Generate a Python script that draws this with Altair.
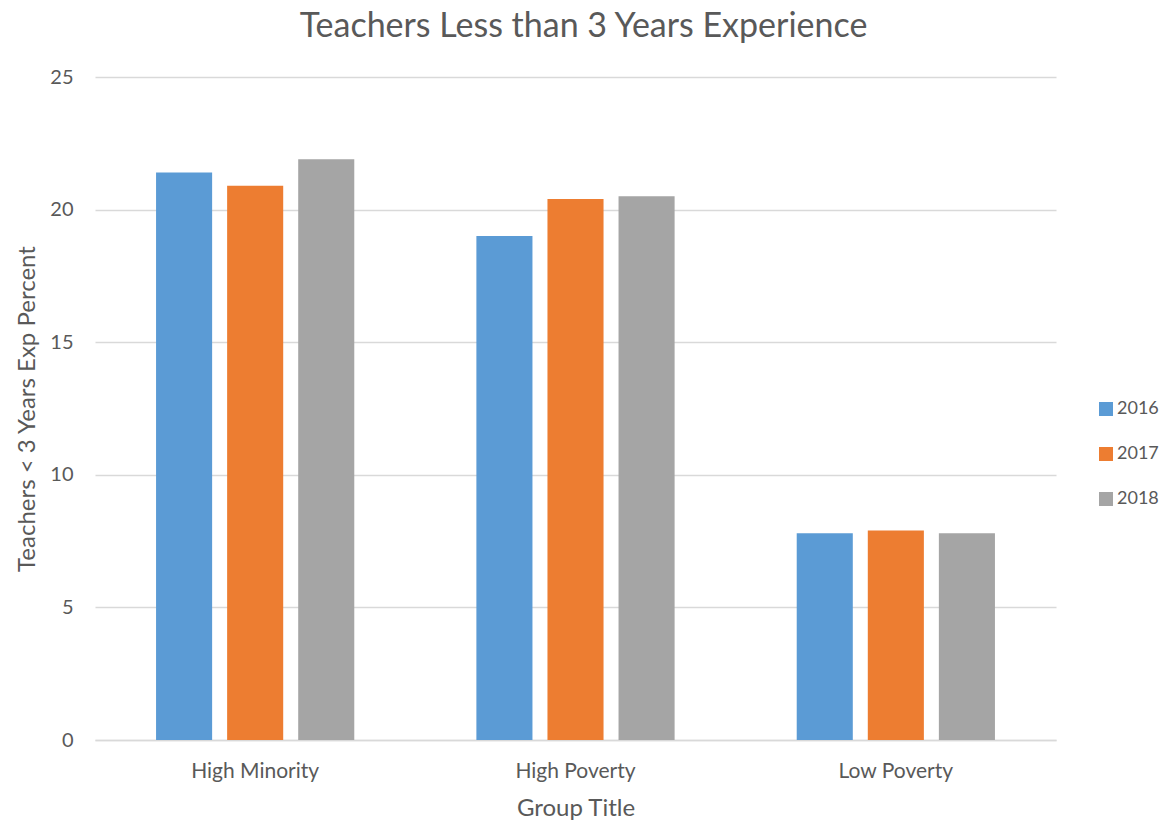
import altair as alt
import pandas as pd

groups = ["High Minority", "High Poverty", "Low Poverty"]
years = ["2016", "2017", "2018"]
values_2016 = [21.4, 19.0, 7.8]
values_2017 = [20.9, 20.4, 7.9]
values_2018 = [21.9, 20.5, 7.8]
colors = ["#5b9bd5", "#ed7d31", "#a5a5a5"]

rows = []
for yr, vals in zip(years, [values_2016, values_2017, values_2018]):
    for g, v in zip(groups, vals):
        rows.append({"Group Title": g, "Year": yr, "Value": v})
df = pd.DataFrame(rows)

FONT = "Lato"
TXT = "#595959"

chart = alt.Chart(df).mark_bar().encode(
    x=alt.X("Group Title:N", sort=groups,
            scale=alt.Scale(paddingInner=0, paddingOuter=0),
            axis=alt.Axis(title="Group Title", labelAngle=0, ticks=False,
                          labelPadding=20, labelFontSize=21, labelColor=TXT,
                          titleFontSize=24, titleFontWeight="normal", titleColor=TXT,
                          titleY=68, titleBaseline="middle",
                          domainColor="#d9d9d9", domainWidth=1.5)),
    xOffset=alt.XOffset("Year:N", sort=years,
                        scale=alt.Scale(paddingInner=0.211, paddingOuter=0.859)),
    y=alt.Y("Value:Q", scale=alt.Scale(domain=[0, 25]),
            axis=alt.Axis(title="Teachers < 3 Years Exp Percent", values=[0, 5, 10, 15, 20, 25],
                          ticks=False, domain=False, labelPadding=22,
                          labelFontSize=20, labelColor=TXT,
                          titleFontSize=24, titleFontWeight="normal", titleColor=TXT,
                          titleX=-68, titleY=331.5, titleAngle=-90, titleBaseline="middle",
                          gridColor="#d9d9d9", gridWidth=1.5)),
    color=alt.Color("Year:N", sort=years,
                    scale=alt.Scale(domain=years, range=colors),
                    legend=alt.Legend(title=None, orient="none", legendX=1002, legendY=323,
                                      symbolType="square", symbolSize=196,
                                      symbolStrokeWidth=0, labelFontSize=18,
                                      labelColor=TXT, rowPadding=27, labelOffset=2)),
).properties(
    width=961, height=663,
    title=alt.Title("Teachers Less than 3 Years Experience", fontSize=34,
                    fontWeight="normal", color=TXT, anchor="middle", offset=23, dx=8),
    autosize=alt.AutoSizeParams(type="none"),
    padding={"left": 87, "top": 69, "right": 104, "bottom": 84},
).configure(font=FONT).configure_view(stroke=None)

chart.save("out.html", embed_options={"renderer": "svg", "actions": False})
